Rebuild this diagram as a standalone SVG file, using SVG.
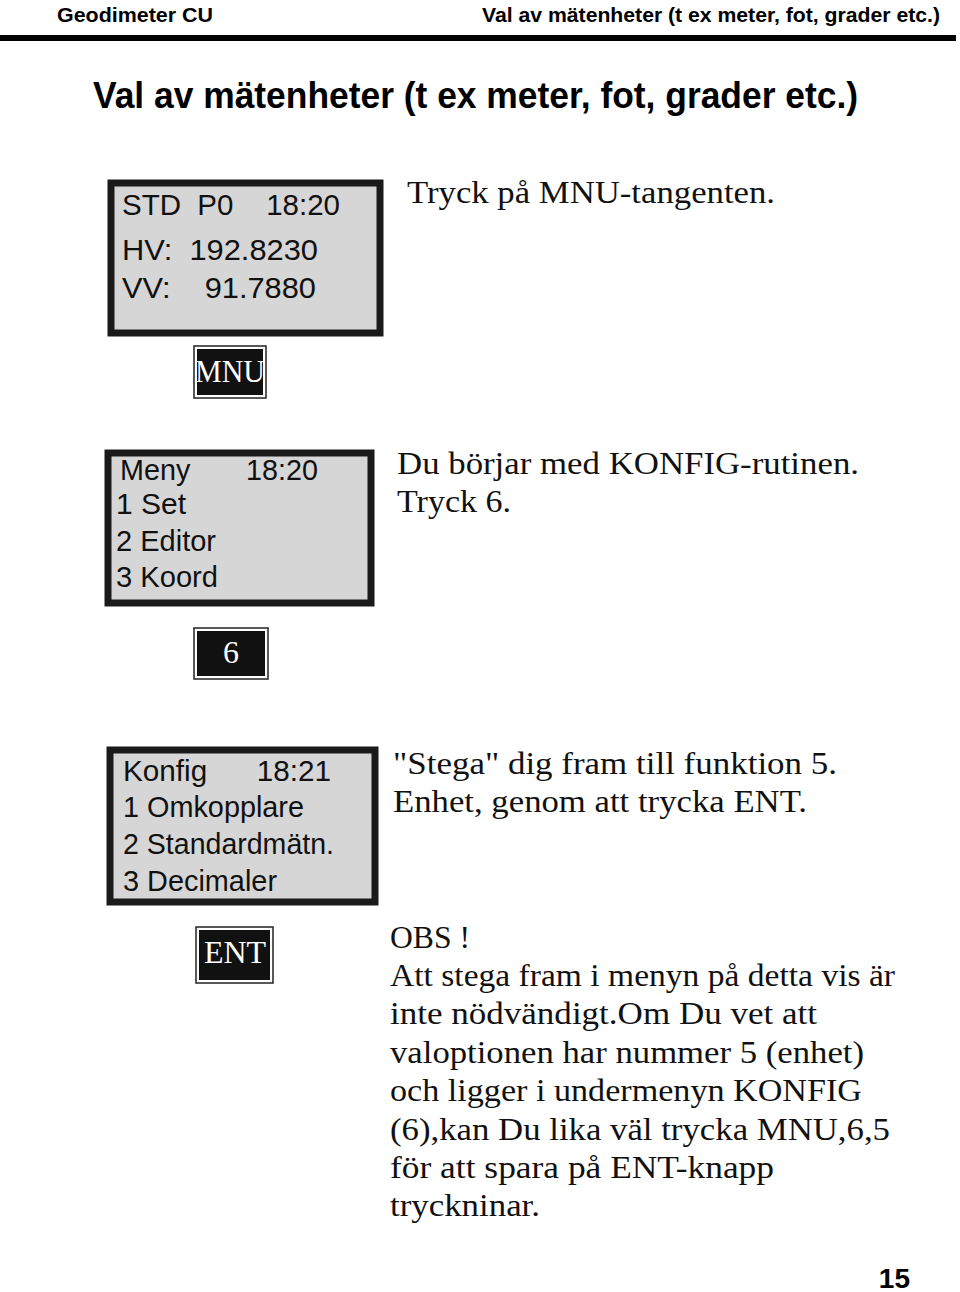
<svg xmlns="http://www.w3.org/2000/svg" width="960" height="1292" viewBox="0 0 960 1292">
<style>
.hd{font-family:"Liberation Sans",Arial,sans-serif;font-weight:bold;fill:#000}
.lcd{fill:#d6d6d6;stroke:#1a1a1a;stroke-width:7}
.lt{font-family:"Liberation Sans",Arial,sans-serif;font-size:30px;fill:#111;white-space:pre}
.kout{fill:#fff;stroke:#222;stroke-width:1.5}
.kin{fill:#111}
.kt{font-family:"Liberation Serif","Times New Roman",serif;fill:#fff}
.bt{font-family:"Liberation Serif","Times New Roman",serif;font-size:31px;fill:#111}
</style>
<rect width="960" height="1292" fill="#fff"/>
<text class="hd" x="57" y="22" font-size="21" textLength="156" lengthAdjust="spacingAndGlyphs">Geodimeter CU</text>
<text class="hd" x="940" y="22" font-size="21" text-anchor="end" textLength="458" lengthAdjust="spacingAndGlyphs">Val av mätenheter (t ex meter, fot, grader etc.)</text>
<rect x="0" y="35" width="956" height="6" fill="#000"/>
<text class="hd" x="93" y="108" font-size="36" textLength="765" lengthAdjust="spacingAndGlyphs">Val av mätenheter (t ex meter, fot, grader etc.)</text>

<g id="display1">
<rect class="lcd" x="111" y="183" width="269" height="150"/>
<text class="lt" x="122" y="215" textLength="218" lengthAdjust="spacingAndGlyphs">STD  P0    18:20</text>
<text class="lt" x="122" y="260" textLength="196" lengthAdjust="spacingAndGlyphs">HV:  192.8230</text>
<text class="lt" x="122" y="298" textLength="194" lengthAdjust="spacingAndGlyphs">VV:    91.7880</text>
</g>
<g id="key-mnu">
<rect class="kout" x="194" y="346" width="72" height="52"/>
<rect class="kin" x="197" y="349" width="66" height="46"/>
<text class="kt" x="230" y="382" font-size="32" text-anchor="middle" textLength="70" lengthAdjust="spacingAndGlyphs">MNU</text>
</g>
<text class="bt" x="407" y="203" textLength="368" lengthAdjust="spacingAndGlyphs">Tryck på MNU-tangenten.</text>

<g id="display2">
<rect class="lcd" x="108" y="453" width="263" height="150"/>
<text class="lt" x="120" y="480" textLength="198" lengthAdjust="spacingAndGlyphs">Meny       18:20</text>
<text class="lt" x="116" y="514">1 Set</text>
<text class="lt" x="116" y="551" textLength="100" lengthAdjust="spacingAndGlyphs">2 Editor</text>
<text class="lt" x="116" y="587" textLength="102" lengthAdjust="spacingAndGlyphs">3 Koord</text>
</g>
<g id="key-6">
<rect class="kout" x="194" y="628" width="74" height="51"/>
<rect class="kin" x="197" y="631" width="68" height="45"/>
<text class="kt" x="231" y="663" font-size="32" text-anchor="middle">6</text>
</g>
<text class="bt" x="397" y="474" textLength="462" lengthAdjust="spacingAndGlyphs">Du börjar med KONFIG-rutinen.</text>
<text class="bt" x="397" y="512" textLength="114" lengthAdjust="spacingAndGlyphs">Tryck 6.</text>

<g id="display3">
<rect class="lcd" x="110" y="750" width="265" height="152"/>
<text class="lt" x="123" y="781" textLength="208" lengthAdjust="spacingAndGlyphs">Konfig      18:21</text>
<text class="lt" x="123" y="817" textLength="181" lengthAdjust="spacingAndGlyphs">1 Omkopplare</text>
<text class="lt" x="123" y="854" textLength="211" lengthAdjust="spacingAndGlyphs">2 Standardmätn.</text>
<text class="lt" x="123" y="891" textLength="154" lengthAdjust="spacingAndGlyphs">3 Decimaler</text>
</g>
<g id="key-ent">
<rect class="kout" x="196" y="927" width="77" height="56"/>
<rect class="kin" x="199" y="930" width="71" height="50"/>
<text class="kt" x="235" y="963" font-size="32" text-anchor="middle">ENT</text>
</g>
<text class="bt" x="393" y="774" textLength="444" lengthAdjust="spacingAndGlyphs">"Stega" dig fram till funktion 5.</text>
<text class="bt" x="393" y="812" textLength="414" lengthAdjust="spacingAndGlyphs">Enhet, genom att trycka ENT.</text>

<g class="bt">
<text x="390" y="948" textLength="80" lengthAdjust="spacingAndGlyphs">OBS !</text>
<text x="390" y="986" textLength="505" lengthAdjust="spacingAndGlyphs">Att stega fram i menyn på detta vis är</text>
<text x="390" y="1024" textLength="427" lengthAdjust="spacingAndGlyphs">inte nödvändigt.Om Du vet att</text>
<text x="390" y="1063" textLength="474" lengthAdjust="spacingAndGlyphs">valoptionen har nummer 5 (enhet)</text>
<text x="390" y="1101" textLength="472" lengthAdjust="spacingAndGlyphs">och ligger i undermenyn KONFIG</text>
<text x="390" y="1140" textLength="500" lengthAdjust="spacingAndGlyphs">(6),kan Du lika väl trycka MNU,6,5</text>
<text x="390" y="1178" textLength="384" lengthAdjust="spacingAndGlyphs">för att spara på ENT-knapp</text>
<text x="390" y="1216" textLength="150" lengthAdjust="spacingAndGlyphs">tryckninar.</text>
</g>
<text class="hd" x="910" y="1288" font-size="28" text-anchor="end">15</text>
<g id="connectors"/>
</svg>
